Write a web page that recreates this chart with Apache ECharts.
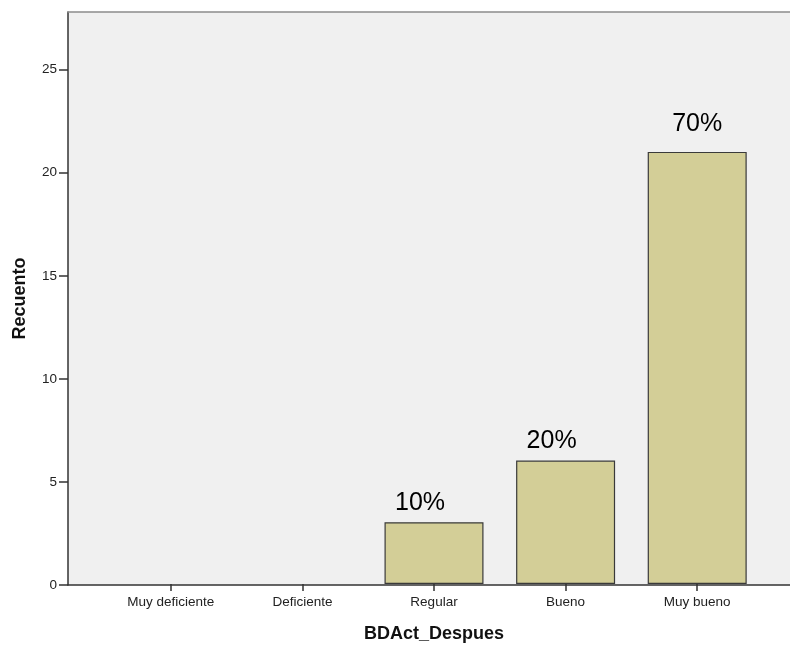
<!DOCTYPE html>
<html>
<head>
<meta charset="utf-8">
<style>
  html, body { margin: 0; padding: 0; background: #ffffff; }
  #chart { width: 790px; height: 648px; }
</style>
<script src="https://cdn.jsdelivr.net/npm/echarts@6/dist/echarts.min.js"></script>
</head>
<body>
<div id="chart"></div>
<script>
// Categories and counts
const categories = ['Muy deficiente', 'Deficiente', 'Regular', 'Bueno', 'Muy bueno'];
const counts = [0, 0, 3, 6, 21];
const yTicks = [0, 5, 10, 15, 20, 25];
const yMax = 27.8;

// Label nudges (x, y) for the percentage labels, by category index
const labelNudge = { 2: [-14, 0], 3: [-14, 0], 4: [0, -8] };

const FONT = '"Liberation Sans", Arial, sans-serif';
const total = counts.reduce((a, b) => a + b, 0);

const barData = counts.map((v, i) => {
  const item = { value: v };
  if (v > 0) {
    item.label = {
      show: true,
      position: 'top',
      distance: 7,
      offset: labelNudge[i] || [0, 0],
      formatter: Math.round(v / total * 100) + '%',
      fontSize: 25,
      fontFamily: FONT,
      color: '#000000'
    };
  } else {
    // empty categories: no outline along the baseline
    item.itemStyle = { borderWidth: 0, opacity: 0 };
  }
  return item;
});

const chart = echarts.init(document.getElementById('chart'), null, { renderer: 'canvas' });

chart.setOption({
  animation: false,
  backgroundColor: '#ffffff',
  grid: [
    // framed panel with the grey background and value axis
    { left: 68, right: 0, top: 12, bottom: 63, show: true, backgroundColor: '#f0f0f0', borderWidth: 0 },
    // category band for the bars
    { left: 105, right: 27, top: 12, bottom: 63 }
  ],
  xAxis: [
    {
      gridIndex: 0, type: 'value', position: 'top', min: 0, max: 1,
      axisLine: { show: true, onZero: false, lineStyle: { color: '#8c8c8c', width: 1.5 } },
      axisTick: { show: false }, axisLabel: { show: false }, splitLine: { show: false }
    },
    {
      gridIndex: 0, type: 'value', position: 'bottom', min: 0, max: 1,
      axisLine: { show: true, onZero: false, lineStyle: { color: '#333333', width: 1.5 } },
      axisTick: { show: false }, axisLabel: { show: false }, splitLine: { show: false }
    },
    {
      gridIndex: 1, type: 'category', data: categories, position: 'bottom',
      axisLine: { show: false, onZero: false },
      axisTick: { show: true, alignWithLabel: true, length: 7, lineStyle: { color: '#333333', width: 1.5 } },
      axisLabel: { margin: 11, fontSize: 13.5, fontFamily: FONT, color: '#222222' },
      name: 'BDAct_Despues', nameLocation: 'middle', nameGap: 41,
      nameTextStyle: { fontSize: 18, fontWeight: 'bold', fontFamily: FONT, color: '#111111' },
      splitLine: { show: false }
    }
  ],
  yAxis: [
    {
      gridIndex: 0, type: 'value', min: 0, max: yMax, interval: 5,
      axisLine: { show: true, onZero: false, lineStyle: { color: '#333333', width: 1.5 } },
      axisTick: { show: true, length: 9, customValues: yTicks, lineStyle: { color: '#333333', width: 1.5 } },
      axisLabel: { margin: 11, customValues: yTicks, fontSize: 13.5, fontFamily: FONT, color: '#222222' },
      splitLine: { show: false },
      name: 'Recuento', nameLocation: 'middle', nameRotate: 90, nameGap: 39,
      nameTextStyle: { fontSize: 18, fontWeight: 'bold', fontFamily: FONT, color: '#111111' }
    },
    {
      gridIndex: 1, type: 'value', min: 0, max: yMax, show: false
    }
  ],
  series: [
    {
      type: 'bar',
      xAxisIndex: 2,
      yAxisIndex: 1,
      data: barData,
      barWidth: 99,
      itemStyle: { color: '#d3ce97', borderColor: '#3a3a3a', borderWidth: 1.2 }
    }
  ]
});
</script>
</body>
</html>
